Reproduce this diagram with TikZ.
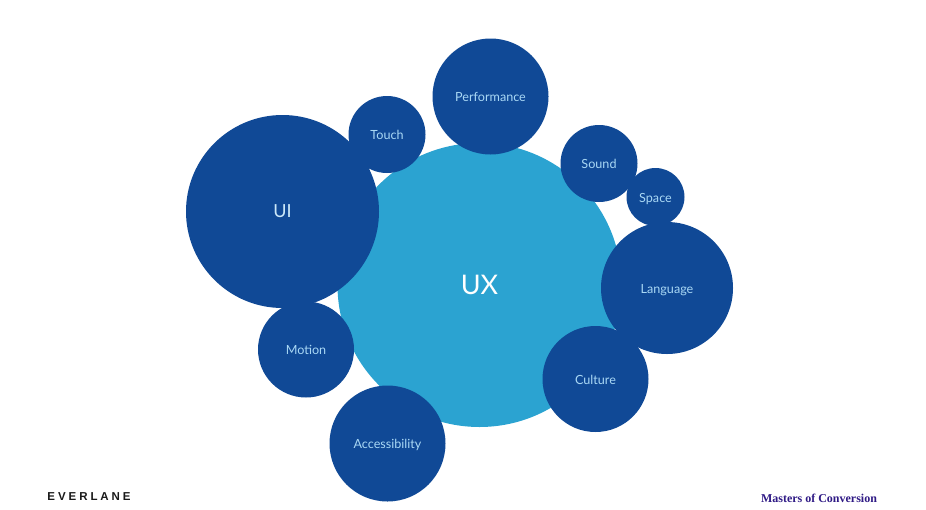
\documentclass[tikz,border=0pt]{standalone}
\usepackage{fontspec}
\setmainfont{Lato}
\newfontfamily\everfont[LetterSpace=25.5]{Liberation Sans}
\newfontfamily\mocfont{Liberation Serif}
\definecolor{uxblue}{HTML}{2BA3D1}
\definecolor{darkblue}{HTML}{104996}
\definecolor{lbl}{HTML}{A9D8F5}
\definecolor{mocpurple}{HTML}{2F1A85}
\tikzset{
  bubble/.style={circle,fill=darkblue,draw=none,inner sep=0pt,text=lbl,text height=11pt,text depth=1pt,font=\fontsize{12.6}{15}\selectfont},
  bigbubble/.style={circle,draw=none,inner sep=0pt,text=white},
}
\begin{document}
\begin{tikzpicture}[x=1pt,y=-1pt]
\useasboundingbox (0,0) rectangle (926,509);
\node[bigbubble,fill=uxblue,minimum size=284pt,font=\fontsize{27}{32}\selectfont] (ux) at (479.5,285) {UX};
\node[bigbubble,fill=darkblue,minimum size=193pt,text=lbl!60!white,font=\fontsize{18}{22}\selectfont] (ui) at (282.5,211.5) {UI};
\node[bubble,minimum size=77pt] (touch) at (387,134.5) {Touch};
\node[bubble,minimum size=116pt] (perf) at (490.5,96.5) {Performance};
\node[bubble,minimum size=77pt] (sound) at (599,163.5) {Sound};
\node[bubble,minimum size=58pt] (space) at (655.5,197) {Space};
\node[bubble,minimum size=132pt] (lang) at (667,288) {Language};
\node[bubble,minimum size=106pt] (culture) at (595.5,379) {Culture};
\node[bubble,minimum size=116pt] (access) at (387.5,443.5) {Accessibility};
\node[bubble,minimum size=96pt] (motion) at (306,349.5) {Motion};
\node[inner sep=0pt,text=black!90,font=\everfont\fontsize{11.5}{13}\selectfont] (ever) at (90.5,496.5) {\textbf{EVERLANE}};
\node[inner sep=0pt,text=mocpurple,font=\mocfont\bfseries\fontsize{12}{14}\selectfont] (moc) at (819,498) {Masters of Conversion};
\end{tikzpicture}
\end{document}
